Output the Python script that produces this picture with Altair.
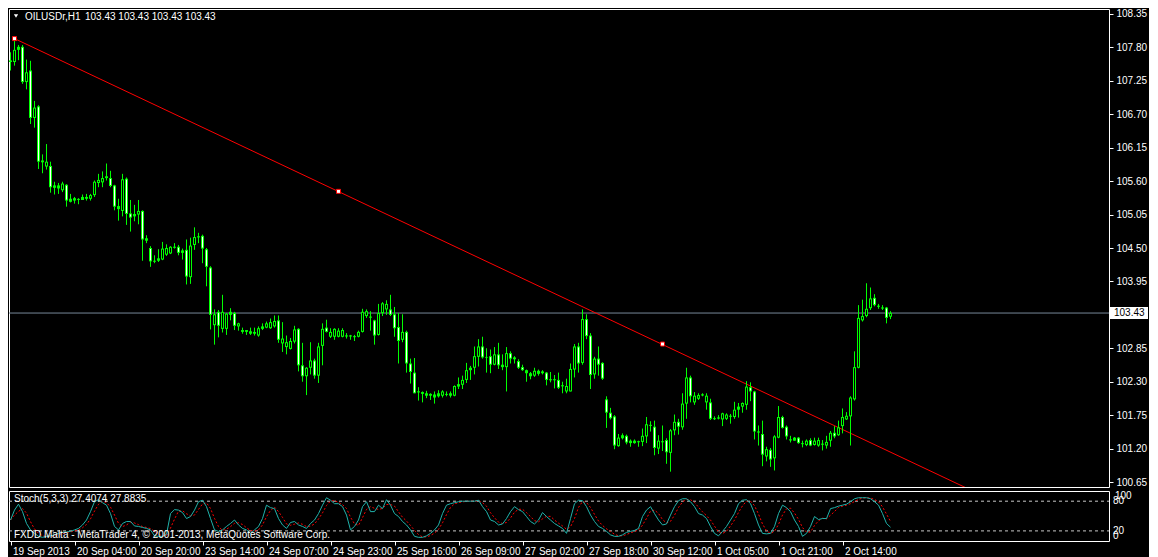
import altair as alt
import pandas as pd

# ---------------- data ----------------
opens = [107.56,107.56,107.76,107.81,107.23,107.42,106.64,106.83,105.94,105.84,
         105.85,105.53,105.48,105.45,105.54,105.26,105.28,105.29,105.29,105.34,
         105.31,105.37,105.57,105.58,105.68,105.65,105.53,105.14,105.11,105.64,
         105.07,105.02,105.05,105.11,104.66,104.50,104.29,104.29,104.31,104.39,
         104.41,104.52,104.52,104.42,104.47,104.02,104.55,104.69,104.70,104.48,
         104.18,103.23,103.45,103.17,103.17,103.40,103.43,103.21,103.15,103.15,
         103.09,103.12,103.06,103.17,103.19,103.18,103.21,103.31,102.93,102.87,
         102.84,102.96,103.17,102.57,102.39,102.53,102.65,102.40,102.89,103.19,
         103.04,103.04,103.04,103.04,103.06,103.06,103.05,103.04,103.12,103.38,
         103.37,103.31,103.07,103.43,103.49,103.49,103.41,103.20,102.99,103.12,
         102.60,102.45,102.14,102.13,102.07,102.07,102.04,102.11,102.07,102.10,
         102.07,102.07,102.22,102.25,102.33,102.49,102.53,102.71,102.88,102.70,
         102.72,102.58,102.75,102.54,102.54,102.77,102.70,102.64,102.54,102.49,
         102.39,102.40,102.43,102.47,102.45,102.34,102.34,102.33,102.24,102.14,
         102.14,102.50,102.88,102.61,103.33,103.06,102.42,102.68,102.61,102.01,
         101.79,101.73,101.24,101.37,101.41,101.29,101.33,101.32,101.31,101.40,
         101.59,101.56,101.20,101.32,101.34,101.13,101.50,101.64,101.55,101.94,
         102.37,101.96,102.02,102.09,101.96,101.96,101.70,101.71,101.68,101.69,
         101.74,101.72,101.84,101.89,101.92,102.21,102.14,101.48,101.44,101.07,
         101.18,101.04,101.38,101.72,101.56,101.35,101.33,101.38,101.29,101.26,
         101.34,101.26,101.25,101.28,101.25,101.33,101.46,101.42,101.57,101.68,
         101.73,102.01,102.53,103.31,103.38,103.51,103.68,103.55,103.52,103.52,
         103.37]
highs = [107.72,107.91,107.84,107.84,107.60,107.58,106.92,106.85,106.04,106.21,
         105.92,105.59,105.57,105.59,105.55,105.39,105.34,105.32,105.38,105.39,
         105.39,105.61,105.72,105.76,105.89,105.77,105.54,105.31,105.72,105.66,
         105.29,105.21,105.29,105.12,104.71,104.53,104.38,104.48,104.60,104.56,
         104.53,104.58,104.55,104.49,104.64,104.67,104.84,104.75,104.72,104.50,
         104.20,103.49,103.48,103.73,103.43,103.51,103.45,103.27,103.19,103.15,
         103.19,103.19,103.21,103.26,103.29,103.34,103.39,103.39,103.28,103.06,
         103.02,103.22,103.18,102.94,102.54,102.95,102.68,102.94,103.26,103.32,
         103.18,103.18,103.18,103.18,103.10,103.07,103.07,103.14,103.50,103.49,
         103.46,103.32,103.58,103.61,103.64,103.73,103.53,103.43,103.41,103.14,
         102.68,102.69,102.21,102.14,102.15,102.11,102.14,102.16,102.16,102.14,
         102.14,102.24,102.37,102.40,102.61,102.56,102.88,103.00,103.04,102.85,
         102.83,102.87,102.94,102.75,102.87,102.80,102.72,102.67,102.58,102.50,
         102.46,102.53,102.50,102.49,102.46,102.46,102.41,102.45,102.30,102.35,
         102.60,102.92,102.94,103.49,103.41,103.10,102.71,102.88,102.62,102.06,
         101.87,101.75,101.44,101.45,101.43,101.35,101.35,101.33,101.53,101.72,
         101.65,101.66,101.42,101.58,101.37,101.52,101.76,101.69,102.11,102.53,
         102.40,102.13,102.11,102.11,102.11,102.02,101.73,101.75,101.79,101.78,
         101.77,101.97,101.95,101.96,102.31,102.29,102.15,101.58,101.66,101.23,
         101.21,101.42,101.90,101.74,101.58,101.41,101.39,101.39,101.33,101.35,
         101.37,101.38,101.38,101.34,101.41,101.49,101.57,101.66,101.86,101.80,
         102.06,102.80,103.56,103.65,103.92,103.85,103.74,103.58,103.56,103.53,
         103.46]
lows = [107.42,107.50,107.59,107.20,107.11,106.54,106.48,105.80,105.73,105.79,
        105.41,105.38,105.39,105.42,105.18,105.25,105.23,105.22,105.29,105.28,
        105.28,105.34,105.50,105.50,105.61,105.50,105.12,104.95,105.02,104.88,
        104.77,104.94,104.89,104.29,104.58,104.19,104.25,104.27,104.30,104.37,
        104.40,104.49,104.38,104.31,103.90,103.91,104.47,104.58,104.25,103.87,
        103.16,102.91,103.03,103.11,103.07,103.31,103.15,103.14,103.09,103.07,
        103.07,103.06,103.04,103.15,103.18,103.17,103.19,102.94,102.79,102.75,
        102.83,102.93,102.47,102.30,102.08,102.42,102.35,102.28,102.57,103.11,
        103.02,102.99,103.03,103.03,103.01,102.99,102.97,103.03,103.11,103.35,
        103.14,102.91,103.06,103.38,103.40,103.38,103.04,102.60,102.95,102.45,
        102.27,102.11,101.99,101.96,102.03,102.00,101.94,102.04,102.04,102.06,
        102.04,102.06,102.18,102.18,102.28,102.33,102.42,102.55,102.68,102.45,
        102.44,102.57,102.51,102.49,102.14,102.60,102.60,102.51,102.48,102.30,
        102.34,102.38,102.40,102.42,102.24,102.29,102.19,102.18,102.11,102.11,
        102.14,102.37,102.45,102.58,103.00,102.18,102.35,102.40,102.33,101.54,
        101.68,101.19,101.23,101.35,101.27,101.23,101.28,101.23,101.24,101.29,
        101.48,101.09,101.11,101.16,100.95,100.82,101.42,101.43,101.51,101.69,
        101.96,101.92,102.00,102.06,101.84,101.67,101.67,101.68,101.57,101.67,
        101.61,101.69,101.71,101.79,101.84,101.98,101.35,101.25,100.91,100.99,
        100.90,100.84,101.37,101.53,101.35,101.30,101.33,101.28,101.22,101.24,
        101.24,101.25,101.23,101.17,101.20,101.23,101.37,101.41,101.45,101.67,
        101.25,101.99,102.52,103.29,103.36,103.48,103.54,103.50,103.48,103.26,
        103.33]
closes = [107.58,107.76,107.81,107.23,107.39,106.64,106.81,105.92,105.91,105.92,
          105.50,105.49,105.53,105.56,105.28,105.31,105.32,105.30,105.34,105.31,
          105.37,105.59,105.62,105.65,105.65,105.52,105.18,105.19,105.63,105.06,
          105.00,105.06,105.11,104.64,104.62,104.28,104.28,104.33,104.49,104.50,
          104.52,104.51,104.42,104.46,104.03,104.54,104.68,104.68,104.49,104.19,
          103.40,103.41,103.22,103.45,103.42,103.45,103.22,103.26,103.12,103.12,
          103.13,103.09,103.18,103.21,103.26,103.28,103.30,102.99,103.01,102.95,
          102.97,103.16,102.57,102.39,102.53,102.65,102.40,102.88,103.17,103.12,
          103.12,103.17,103.14,103.15,103.05,103.05,103.04,103.12,103.45,103.46,
          103.36,103.06,103.43,103.59,103.58,103.40,103.18,102.97,103.12,102.60,
          102.46,102.11,102.13,102.10,102.11,102.10,102.09,102.06,102.14,102.09,
          102.11,102.23,102.26,102.33,102.49,102.53,102.72,102.88,102.70,102.70,
          102.58,102.75,102.57,102.58,102.77,102.68,102.67,102.53,102.49,102.44,
          102.44,102.48,102.48,102.44,102.33,102.33,102.33,102.20,102.23,102.23,
          102.51,102.88,102.60,103.33,103.05,102.41,102.68,102.58,102.35,101.79,
          101.70,101.25,101.38,101.42,101.30,101.33,101.29,101.31,101.41,101.60,
          101.58,101.21,101.33,101.31,101.14,101.50,101.64,101.56,101.94,102.37,
          102.06,102.07,102.08,102.08,102.07,101.69,101.69,101.70,101.78,101.76,
          101.73,101.84,101.89,101.95,102.22,102.14,101.48,101.47,101.10,101.19,
          101.02,101.40,101.72,101.54,101.40,101.34,101.38,101.29,101.28,101.33,
          101.25,101.33,101.34,101.27,101.31,101.46,101.40,101.55,101.72,101.74,
          102.04,102.54,103.35,103.38,103.50,103.67,103.56,103.54,103.51,103.35,
          103.43]
stoch_main = [42,62,74,59,35,22,15,9,7,9,
              10,12,15,17,18,19,22,25,32,42,
              59,79,83,77,72,55,29,22,35,39,
              39,30,29,27,25,22,10,9,9,13,
              55,63,62,57,45,49,62,79,82,69,
              45,22,19,22,29,35,42,32,25,22,
              15,22,29,45,72,67,65,45,32,25,
              37,39,32,29,25,35,42,55,72,87,
              82,75,75,69,52,22,29,42,69,79,
              59,59,72,65,83,72,55,49,39,32,
              22,9,7,7,10,15,22,32,55,72,
              75,77,79,80,80,80,80,82,69,59,
              42,39,32,34,45,59,69,63,59,49,
              39,34,42,57,49,42,35,30,25,15,
              45,75,82,81,69,52,39,29,25,19,
              12,9,9,12,17,19,21,25,49,62,
              69,55,42,32,34,52,69,81,85,85,
              79,69,55,52,45,29,15,10,19,29,
              42,55,75,82,83,75,55,32,15,14,
              15,29,55,72,67,59,42,29,9,15,
              29,49,43,45,45,65,67,70,72,74,
              79,85,87,87,87,85,79,72,55,35,
              27.4]
tick_labels = ["19 Sep 2013", "20 Sep 04:00", "20 Sep 20:00", "23 Sep 14:00",
               "24 Sep 07:00", "24 Sep 23:00", "25 Sep 16:00", "26 Sep 09:00",
               "27 Sep 02:00", "27 Sep 18:00", "30 Sep 12:00", "1 Oct 05:00",
               "1 Oct 21:00", "2 Oct 14:00"]
price_ticks = [108.35, 107.80, 107.25, 106.70, 106.15, 105.60, 105.05, 104.50,
               103.95, 102.85, 102.30, 101.75, 101.20, 100.65]
last_price = [103.43]
title_symbol = ["OILUSDr,H1"]
title_ohlc = ["103.43 103.43 103.43 103.43"]
trend_bars = [1, 240]
trend_prices = [107.945, 100.52]
handle_bars = [1, 82, 163]
handle_prices = [107.945, 105.432, 102.920]
stoch_levels = [80, 20]
stoch_title = ["Stoch(5,3,3) 27.4074 27.8835"]
copyright_text = ["FXDD Malta - MetaTrader 4, \u00a9 2001-2013, MetaQuotes Software Corp."]

# ---------------- layout / style ----------------
W = 1100
H1 = 478
H2 = 50
LIME = "#00ff00"
FONT = "Liberation Sans"
X_DOM = [-0.375, -0.375 + W / 4]
Y_DOM = [100.568, 108.432]
S_DOM = [-0.4, 100.6]

df = pd.DataFrame({"bar": list(range(len(opens))), "o": opens, "h": highs,
                   "l": lows, "c": closes})

xs = alt.Scale(domain=X_DOM, nice=False, zero=False, padding=0)
ys = alt.Scale(domain=Y_DOM, nice=False, zero=False, padding=0)
ss = alt.Scale(domain=S_DOM, nice=False, zero=False, padding=0)

price_axis = alt.Axis(orient="right", values=price_ticks, format=".2f",
                      labelColor="white", tickColor="white", tickSize=4,
                      labelFont=FONT, labelFontSize=10, labelPadding=3,
                      domain=False, grid=False, title=None,
                      labelOverlap=False, labelFlush=False, labelBound=False)

X = alt.X("bar:Q", scale=xs, axis=None)


def Y(field):
    return alt.Y(field, scale=ys, axis=price_axis)


base = alt.Chart(df)
wicks = base.mark_rule(color=LIME, strokeWidth=1).encode(x=X, y=Y("l:Q"), y2="h:Q")
bodies = base.mark_bar(size=3, color=LIME, strokeWidth=0).encode(
    x=X, y=Y("o:Q"), y2="c:Q")
inner = base.transform_calculate(
    top="max(datum.o, datum.c)", bot="min(datum.o, datum.c)",
    fillc="datum.c < datum.o ? 'white' : 'black'"
).transform_filter("datum.top - datum.bot >= 0.05").mark_rule(
    strokeWidth=1, yOffset=1, y2Offset=-1
).encode(x=X, y=Y("top:Q"), y2="bot:Q", color=alt.Color("fillc:N", scale=None))
doji = base.transform_filter("abs(datum.o - datum.c) < 0.03").mark_tick(
    orient="horizontal", size=3, thickness=1, color=LIME
).encode(x=X, y=Y("c:Q"))

pdf = pd.DataFrame({"p": last_price, "label": [f"{v:.2f}" for v in last_price]})
price_line = alt.Chart(pdf).mark_rule(color="#778899", strokeWidth=1).encode(
    y=Y("p:Q"), x=alt.value(0), x2=alt.value(W))
price_box = alt.Chart(pdf).mark_rect(color="white", yOffset=-6, y2Offset=6).encode(
    y=Y("p:Q"), y2="p:Q", x=alt.value(W + 1), x2=alt.value(W + 39))
price_txt = alt.Chart(pdf).mark_text(align="left", baseline="middle", color="black",
                                     font=FONT, fontSize=10).encode(
    y=Y("p:Q"), x=alt.value(W + 5), text="label:N")

tdf = pd.DataFrame({"bar": trend_bars, "p": trend_prices})
trend = alt.Chart(tdf).mark_line(color="#ff0000", strokeWidth=1, clip=True).encode(
    x=X, y=Y("p:Q"))
hdf = pd.DataFrame({"bar": handle_bars, "p": handle_prices})
handles = alt.Chart(hdf).mark_square(size=16, fill="white", stroke="#ff0000",
                                     strokeWidth=1, opacity=1).encode(x=X, y=Y("p:Q"))

one = pd.DataFrame({"sym": title_symbol, "ohlc": title_ohlc})
tri = alt.Chart(one).mark_point(shape="triangle-down", filled=True, color="white",
                                size=18, opacity=1).encode(
    x=alt.value(7), y=alt.value(7))
t_sym = alt.Chart(one).mark_text(align="left", baseline="middle", color="white",
                                 font=FONT, fontSize=10).encode(
    x=alt.value(16), y=alt.value(8), text="sym:N")
t_ohlc = alt.Chart(one).mark_text(align="left", baseline="middle", color="white",
                                  font=FONT, fontSize=10).encode(
    x=alt.value(76), y=alt.value(8), text="ohlc:N")

main = alt.layer(price_line, trend, wicks, bodies, inner, doji, handles,
                 price_box, price_txt, tri, t_sym, t_ohlc).properties(
    width=W, height=H1)

# ---------------- stochastic panel ----------------
sdf = pd.DataFrame({"bar": list(range(len(stoch_main))), "k": stoch_main})
n_ticks = len(tick_labels)
label_expr = "[" + ",".join(f"'{t}'" for t in tick_labels) + "][round(datum.value / 16)]"
time_axis = alt.Axis(values=[16 * i for i in range(n_ticks)], labelExpr=label_expr,
                     labelAlign="left", labelBaseline="top", labelPadding=1,
                     labelOffset=2, tickSize=4, tickColor="white", labelColor="white",
                     labelFont=FONT, labelFontSize=10, domain=False, grid=False,
                     title=None, labelFlush=False, labelOverlap=False,
                     labelBound=False)
XS = alt.X("bar:Q", scale=xs, axis=time_axis)
SY = alt.Y("k:Q", scale=ss, axis=None)

k_line = alt.Chart(sdf).mark_line(color="#20b2aa", strokeWidth=1).encode(x=XS, y=SY)
d_line = alt.Chart(sdf).transform_window(
    d="mean(k)", frame=[-2, 0]
).mark_line(color="#ff0000", strokeWidth=1, strokeDash=[2, 2]).encode(
    x=XS, y=alt.Y("d:Q", scale=ss, axis=None))

ldf = pd.DataFrame({"lv": stoch_levels, "txt": [str(v) for v in stoch_levels]})
levels = alt.Chart(ldf).mark_rule(color="#c8c8c8", strokeWidth=1,
                                  strokeDash=[3, 3]).encode(
    y=alt.Y("lv:Q", scale=ss, axis=None), x=alt.value(0), x2=alt.value(W))
level_txt = alt.Chart(ldf).mark_text(align="left", baseline="middle", color="white",
                                     font=FONT, fontSize=10).encode(
    y=alt.Y("lv:Q", scale=ss, axis=None), x=alt.value(W + 4), text="txt:N")
edf_top = pd.DataFrame({"lv": [100], "txt": ["100"]})
edf_bot = pd.DataFrame({"lv": [0], "txt": ["0"]})
top_txt = alt.Chart(edf_top).mark_text(align="left", baseline="top", color="white",
                                       font=FONT, fontSize=10).encode(
    y=alt.Y("lv:Q", scale=ss, axis=None), x=alt.value(W + 6), text="txt:N")
bot_txt = alt.Chart(edf_bot).mark_text(align="left", baseline="bottom", color="white",
                                       font=FONT, fontSize=10).encode(
    y=alt.Y("lv:Q", scale=ss, axis=None), x=alt.value(W + 4), text="txt:N")

sone = pd.DataFrame({"t1": stoch_title, "t2": copyright_text})
s_title = alt.Chart(sone).mark_text(align="left", baseline="middle", color="white",
                                    font=FONT, fontSize=10).encode(
    x=alt.value(5), y=alt.value(8), text="t1:N")
s_copy = alt.Chart(sone).mark_text(align="left", baseline="middle", color="white",
                                   font=FONT, fontSize=10).encode(
    x=alt.value(5), y=alt.value(44), text="t2:N")

stoch = alt.layer(levels, d_line, k_line, s_title, s_copy, level_txt,
                  top_txt, bot_txt).properties(width=W, height=H2)

chart = alt.vconcat(main, stoch, spacing=2).properties(padding=0).configure(
    background="black"
).configure_view(stroke="white", strokeWidth=1)

chart.save("out.html", embed_options={"renderer": "svg", "actions": False})
